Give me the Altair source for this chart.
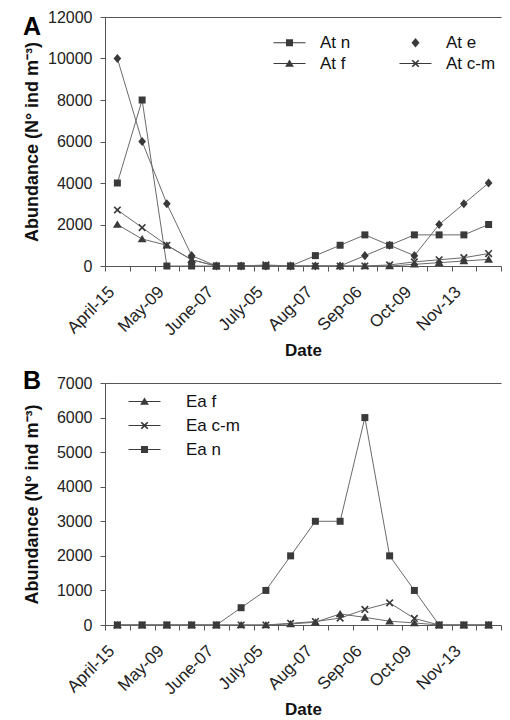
import altair as alt
import pandas as pd

# ---------------- data ----------------
IDX = list(range(16))
TICK_LABELS = ["April-15", "May-09", "June-07", "July-05", "Aug-07", "Sep-06", "Oct-09", "Nov-13"]

SERIES_A = ["At n", "At e", "At f", "At c-m"]
AT_N = [4000, 8000, 0, 0, 0, 0, 0, 0, 500, 1000, 1500, 1000, 1500, 1500, 1500, 2000]
AT_E = [10000, 6000, 3000, 500, 0, 0, 0, 0, 0, 0, 500, 1000, 500, 2000, 3000, 4000]
AT_F = [2000, 1300, 1000, 300, 0, 0, 0, 0, 0, 0, 0, 0, 80, 160, 240, 320]
AT_CM = [2700, 1850, 1000, 300, 0, 0, 50, 0, 0, 0, 0, 50, 200, 300, 400, 600]
# legend is laid out column by column: this order gives rows "At n / At e" and "At f / At c-m"
LEGEND_ORDER_A = ["At n", "At f", "At e", "At c-m"]

SERIES_B = ["Ea f", "Ea c-m", "Ea n"]
EA_F = [0, 0, 0, 0, 0, 0, 0, 30, 80, 320, 220, 110, 60, 0, 0, 0]
EA_CM = [0, 0, 0, 0, 0, 0, 0, 50, 100, 200, 450, 640, 190, 0, 0, 0]
EA_N = [0, 0, 0, 0, 0, 500, 1000, 2000, 3000, 3000, 6000, 2000, 1000, 0, 0, 0]
LEGEND_ORDER_B = SERIES_B

# ---------------- style ----------------
FONT = "Liberation Sans"
LINE_COL = "#6a6a6a"
MARK_COL = "#3a3a3a"
AXIS_COL = "#555555"
W = 396


def f(v):
    return f"{v:.3f}".rstrip("0").rstrip(".")


def p_square(s):
    return f"M{f(-s)},{f(-s)}H{f(s)}V{f(s)}H{f(-s)}Z"


def p_diamond(w, h):
    return f"M0,{f(-h)}L{f(w)},0L0,{f(h)}L{f(-w)},0Z"


def p_tri(s):
    return f"M0,{f(-1.05*s)}L{f(1.15*s)},{f(0.85*s)}H{f(-1.15*s)}Z"


def p_x(s, d):
    pts = [(-1 + d, -1), (0, -d), (1 - d, -1), (1, -1 + d), (d, 0), (1, 1 - d),
           (1 - d, 1), (0, d), (-1 + d, 1), (-1, 1 - d), (-d, 0), (-1, -1 + d)]
    return "M" + "L".join(f"{f(x*s)},{f(y*s)}" for x, y in pts) + "Z"


def p_line(L, t):
    return f"M{f(-L)},{f(-t)}H{f(L)}V{f(t)}H{f(-L)}Z"


PLOT_SHAPES = {
    "square": p_square(1.0),
    "diamond": p_diamond(1.1, 1.3),
    "tri": p_tri(1.1),
    "x": p_x(1.1, 0.3),
}
LEG_LINE = p_line(2.0, 0.07)
LEG_SHAPES = {
    "square": LEG_LINE + " " + p_square(0.44),
    "diamond": p_diamond(0.5, 0.6),
    "tri": LEG_LINE + " " + p_tri(0.48),
    "x": LEG_LINE + " " + p_x(0.48, 0.3),
}

SHAPE_OF = {
    "At n": "square", "At e": "diamond", "At f": "tri", "At c-m": "x",
    "Ea f": "tri", "Ea c-m": "x", "Ea n": "square",
}

df_a = pd.DataFrame({
    "idx": IDX * 4,
    "series": sum([[s] * 16 for s in SERIES_A], []),
    "value": AT_N + AT_E + AT_F + AT_CM,
})
df_b = pd.DataFrame({
    "idx": IDX * 3,
    "series": sum([[s] * 16 for s in SERIES_B], []),
    "value": EA_F + EA_CM + EA_N,
})

label_arr = "[" + ",".join(f"'{t}'" for t in TICK_LABELS) + "]"
x_vals = sorted([i - 0.5 for i in range(17)] + [2 * k for k in range(len(TICK_LABELS))])


def panel(df, order, ymax, ystep, height, letter, letter_y, leg):
    x = alt.X(
        "idx:Q",
        scale=alt.Scale(domain=[-0.5, 15.5], nice=False, zero=False),
        axis=alt.Axis(
            values=x_vals,
            labelExpr=f"(datum.value % 2 == 0 && datum.value >= 0) ? {label_arr}[datum.value / 2] : ''",
            labelAngle=-45, labelAlign="right", labelBaseline="middle",
            labelPadding=18, labelOffset=-6, labelOverlap=False, labelFlush=False, labelBound=False,
            labelFont=FONT, labelFontSize=17, labelColor="#222",
            tickSize=5, tickColor=AXIS_COL,
            tickOpacity={"condition": {"test": "datum.value % 1 != 0", "value": 1}, "value": 0},
            domainColor=AXIS_COL, grid=False,
            title="Date", titleFont=FONT, titleFontSize=17, titleFontWeight="bold",
            titleColor="#111", titlePadding=4,
        ),
    )
    y = alt.Y(
        "value:Q",
        scale=alt.Scale(domain=[0, ymax], nice=False),
        axis=alt.Axis(
            values=list(range(0, ymax + 1, ystep)), format="d",
            labelFont=FONT, labelFontSize=16, labelColor="#222", labelPadding=8,
            tickSize=5, tickColor=AXIS_COL, domainColor=AXIS_COL,
            grid=True, gridColor=AXIS_COL,
            gridOpacity={"condition": {"test": f"datum.value == {ymax}", "value": 1}, "value": 0},
            minExtent=58,
            title="Abundance (N° ind m⁻³)", titleFont=FONT, titleFontSize=18,
            titleFontWeight="bold", titleColor="#111", titlePadding=6,
        ),
    )
    base = alt.Chart(df)
    lines = base.mark_line(color=LINE_COL, strokeWidth=1).encode(
        x=x, y=y, detail="series:N", order="idx:Q"
    )
    pts = base.mark_point(filled=True, color=MARK_COL, opacity=1, size=49, strokeWidth=0).encode(
        x=x, y=y,
        shape=alt.Shape("series:N",
                        scale=alt.Scale(domain=order, range=[PLOT_SHAPES[SHAPE_OF[s]] for s in order]),
                        legend=None),
    )
    lg = base.transform_filter("false").mark_point(
        filled=True, color=MARK_COL, opacity=1, strokeWidth=0
    ).encode(
        shape=alt.Shape("series:N",
                        scale=alt.Scale(domain=order, range=[LEG_SHAPES[SHAPE_OF[s]] for s in order]),
                        legend=alt.Legend(
                            title=None, orient="none", legendX=leg["x"], legendY=leg["y"],
                            columns=leg["cols"], symbolSize=256, symbolOffset=0,
                            labelOffset=leg["lab"], columnPadding=leg["colpad"],
                            rowPadding=leg["rowpad"], padding=0,
                            labelFont=FONT, labelFontSize=17, labelColor="#111",
                            symbolFillColor=MARK_COL, symbolStrokeWidth=0, symbolOpacity=1,
                        )),
    )
    tag = alt.Chart(pd.DataFrame({"panel": [letter]})).mark_text(
        font=FONT, fontSize=25, fontWeight="bold", color="#000",
        align="left", baseline="alphabetic",
    ).encode(text="panel:N", x=alt.value(-82), y=alt.value(letter_y))
    return alt.layer(lines, pts, lg, tag).resolve_scale(shape="independent").properties(
        width=W, height=height,
    )


pa = panel(df_a, LEGEND_ORDER_A, 12000, 2000, 249, "A", 18,
           {"x": 176, "y": 17, "cols": 2, "lab": 22, "colpad": 48, "rowpad": 3})
pb = panel(df_b, LEGEND_ORDER_B, 7000, 1000, 242, "B", 6,
           {"x": 31, "y": 10, "cols": 1, "lab": 33, "colpad": 10, "rowpad": 6})

chart = alt.vconcat(pa, pb, spacing=10).properties(
    padding={"left": 15, "top": 1, "right": 0, "bottom": 0},
    background="white",
).configure_view(stroke=None)

chart.save("out.html", embed_options={"renderer": "svg", "actions": False})
